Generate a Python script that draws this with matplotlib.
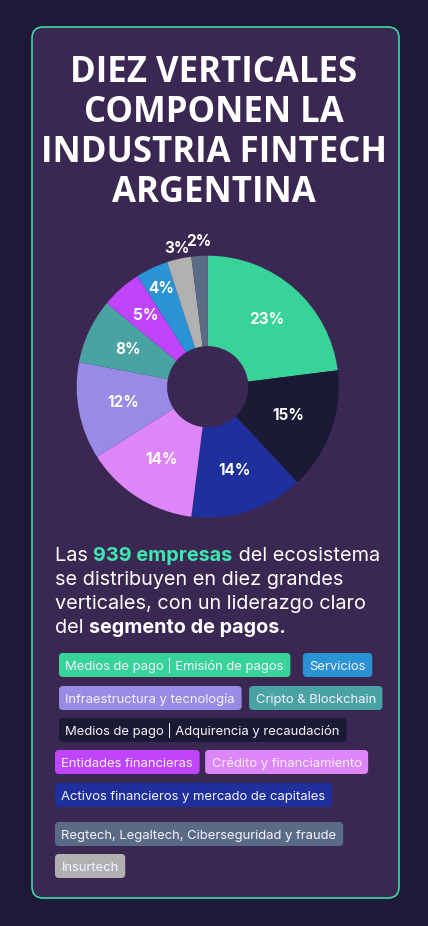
import matplotlib.pyplot as plt
import numpy as np
from matplotlib.patches import FancyBboxPatch

# Fintech verticals (share of 939 companies, %)
verticals = ['Medios de pago | Emisión de pagos',
             'Medios de pago | Adquirencia y recaudación',
             'Activos financieros y mercado de capitales',
             'Crédito y financiamiento',
             'Infraestructura y tecnología',
             'Cripto & Blockchain',
             'Entidades financieras',
             'Servicios',
             'Insurtech',
             'Regtech, Legaltech, Ciberseguridad y fraude']
shares = [23, 15, 14, 14, 12, 8, 5, 4, 3, 2]

colors = ['#37d399', '#1b1a35', '#1f309c', '#dd86f7', '#978be6',
          '#4aa3a3', '#c044fb', '#2a93d5', '#b1b1b1', '#5a6b85']

title_lines = ['DIEZ VERTICALES', 'COMPONEN LA', 'INDUSTRIA FINTECH', 'ARGENTINA']

# paragraph: (text, weight, highlight)
para = [[('Las ', 'normal', False), ('939 empresas', 'bold', True), (' del ecosistema', 'normal', False)],
        [('se distribuyen en diez grandes', 'normal', False)],
        [('verticales, con un liderazgo claro', 'normal', False)],
        [('del ', 'normal', False), ('segmento de pagos.', 'bold', False)]]

# tag layout: indices into verticals, per row
tag_rows = [[0, 7], [4, 5], [1], [6, 3], [2], [9], [8]]
row_x = [59, 59, 59, 55, 55, 55, 55]
row_top = [653, 686, 718, 750, 783, 822, 854]
row_gap = [12.5, 7.5, 0, 5.5, 0, 0, 0]

page_bg = '#1c1a36'
card_bg = '#3a2853'
accent = '#3ee6b0'

fig = plt.figure(figsize=(4.28, 9.26), dpi=100)
fig.patch.set_facecolor(page_bg)
W, H = 428, 926

bg = fig.add_axes([0, 0, 1, 1])
bg.set_xlim(0, W)
bg.set_ylim(H, 0)
bg.axis('off')

bg.add_patch(FancyBboxPatch((32, 27), 367, 871, boxstyle='round,pad=0,rounding_size=11',
                            fc=card_bg, ec=accent, lw=1.1))

# title
for i, line in enumerate(title_lines):
    bg.text(214, 82 + 40 * i, line, ha='center', va='baseline', color='white',
            fontsize=25, fontweight='bold', family='Open Sans')

# donut
R = 131
cx, cy = 207.7, 386.7
side = 2.5 * R
pax = fig.add_axes([(cx - side / 2) / W, (H - cy - side / 2) / H, side / W, side / H])
wedges, _ = pax.pie(shares, colors=colors, startangle=90, counterclock=False,
                    wedgeprops=dict(width=1 - 0.31, linewidth=0))
pax.set_xlim(-1.25, 1.25)
pax.set_ylim(-1.25, 1.25)
pax.set_aspect('equal')

label_dist = [0.68, 0.65, 0.67, 0.66, 0.66, 0.67, 0.72, 0.83, 1.08, 1.11]
for w, v, d in zip(wedges, shares, label_dist):
    a = np.deg2rad((w.theta1 + w.theta2) / 2)
    pax.text(d * np.cos(a), d * np.sin(a), f'{v}%', ha='center', va='center',
             color='white', fontsize=11, fontweight='bold', family='Inter')

renderer = fig.canvas.get_renderer()

# paragraph
for i, segs in enumerate(para):
    x = 55
    y = 561 + 24 * i
    for txt, wt, hl in segs:
        t = bg.text(x, y, txt, ha='left', va='baseline', fontsize=14.3, fontweight=wt,
                    color=accent if hl else 'white', family='Inter')
        x += t.get_window_extent(renderer).width

# tags
for r, idxs in enumerate(tag_rows):
    x = row_x[r]
    top = row_top[r]
    for k in idxs:
        t = bg.text(x + 6.5, top + 12 + 4.6, verticals[k], ha='left', va='baseline',
                    fontsize=9.4, color='#f6f2ff', family='Inter', zorder=3)
        w = t.get_window_extent(renderer).width + 13
        bg.add_patch(FancyBboxPatch((x, top), w, 24, boxstyle='round,pad=0,rounding_size=4',
                                    fc=colors[k], ec='none', zorder=2))
        x += w + row_gap[r]

fig.savefig('out.png', dpi=100, facecolor=page_bg)
